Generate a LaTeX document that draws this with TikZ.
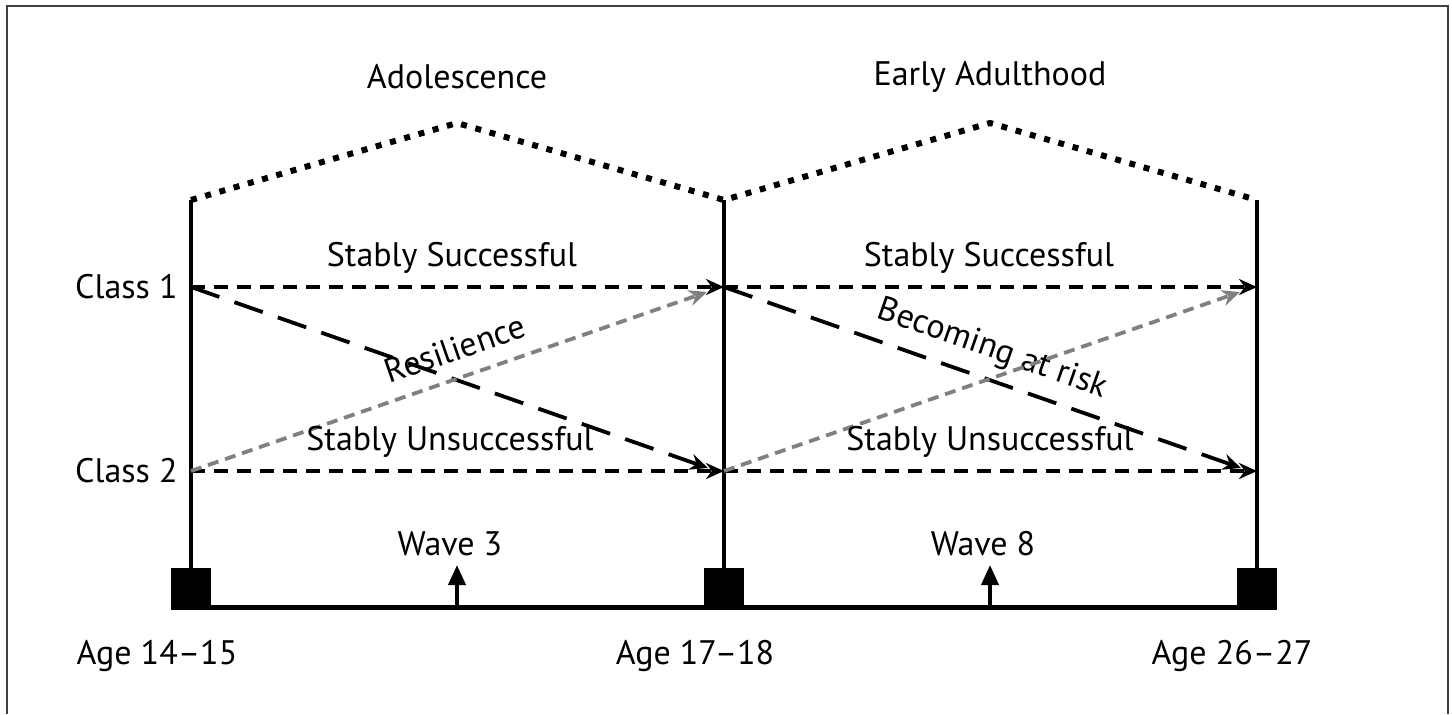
\documentclass[tikz,border=0pt]{standalone}
\usepackage{fontspec}
\setmainfont{PT Sans}
\usetikzlibrary{arrows.meta,calc,positioning}

\begin{document}
\begin{tikzpicture}[x=0.5pt,y=-0.5pt,font=\fontsize{17}{20}\selectfont]
\tikzset{bar/.style={line width=2.4pt},
  roof/.style={line width=3pt,dash pattern=on 3pt off 4.4pt},
  tip/.style={-{Stealth[length=9pt,width=8pt]}},
  flat/.style={tip,line width=1.8pt,dash pattern=on 7pt off 4.5pt},
  drop/.style={tip,line width=1.9pt,dash pattern=on 15pt off 8pt},
  rise/.style={tip,line width=1.9pt,gray,dash pattern=on 5.5pt off 3.5pt},
  sq/.style={fill=black,minimum width=20pt,minimum height=21pt,inner sep=0pt},
  lab/.style={inner sep=1pt,text=black},
  wave/.style={line width=2pt,-{Triangle[length=10pt,width=8.5pt]}}}
\useasboundingbox (0,0) rectangle (1452,714);
\draw[line width=0.8pt,black!75] (7,714) -- (7,6) -- (1448,6) -- (1448,714);
% time points
\coordinate (p1) at (191,200); \coordinate (p2) at (724,200); \coordinate (p3) at (1257,200);
\coordinate (h1) at (457,123); \coordinate (h2) at (990,123);
\coordinate (s1) at (191,287); \coordinate (s2) at (724,287); \coordinate (s3) at (1257,287);
\coordinate (u1) at (191,471); \coordinate (u2) at (724,471); \coordinate (u3) at (1257,471);
\node[sq] (k1) at (191,589) {}; \node[sq] (k2) at (724,589) {}; \node[sq] (k3) at (1257,589) {};
\foreach \i in {1,2,3} \draw[bar] (k\i) -- (p\i);
\draw[line width=2.5pt] ($(k1.south west)+(0,-3)$) -- ($(k3.south east)+(0,-3)$);
\draw[roof] (p1) -- (h1) -- (p2) -- (h2) -- (p3);
\node[lab] (ado) at (457,77) {Adolescence};
\node[lab] (early) at (990,77) {Early Adulthood};
% classes
\node[lab,anchor=east] (c1) at (180,287) {Class 1};
\node[lab,anchor=east] (c2) at (180,471) {Class 2};
\draw[flat] (s1) -- (s2); \draw[flat] (s2) -- (s3);
\draw[flat] (u1) -- (u2); \draw[flat] (u2) -- (u3);
\draw[drop] (s1) -- ($(u2)+(-16,-3)$);
\draw[drop] (s2) -- ($(u3)+(-16,-3)$) node[lab,pos=0.5,sloped,above=5pt] {Becoming at risk};
\draw[rise] (u1) -- ($(s2)+(-17,5)$) node[lab,pos=0.53,sloped,above=6.5pt] {Resilience};
\draw[rise] (u2) -- ($(s3)+(-17,5)$);
\node[lab] (ss1) at (452,258) {Stably Successful};
\node[lab] (ss2) at (989,258) {Stably Successful};
\node[lab] (su1) at (450,442) {Stably Unsuccessful};
\node[lab] (su2) at (990,442) {Stably Unsuccessful};
% waves and ages
\coordinate (w1) at (457,607); \coordinate (w2) at (990,607);
\draw[wave] (w1) -- ++(0,-42) node[lab,above=2.5pt,xshift=-3.5pt] {Wave 3};
\draw[wave] (w2) -- ++(0,-42) node[lab,above=2.5pt,xshift=-3.5pt] {Wave 8};
\node[lab] (a1) at (157,656) {Age 14–15};
\node[lab] (a2) at (695,656) {Age 17–18};
\node[lab] (a3) at (1232,656) {Age 26–27};
\end{tikzpicture}
\end{document}
